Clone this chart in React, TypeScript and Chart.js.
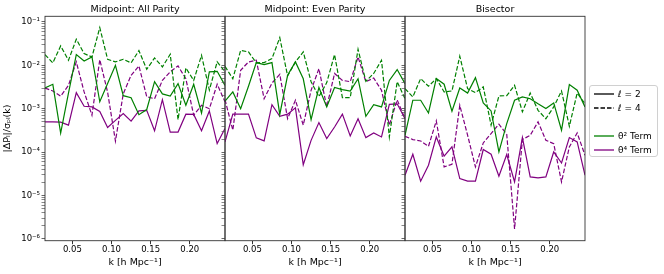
import React, { useEffect, useRef } from 'react';
import { Chart, registerables } from 'chart.js';

Chart.register(...registerables);

// ---------------- DATA ----------------
const K = [0.015, 0.025, 0.035, 0.045, 0.055, 0.065, 0.075, 0.085, 0.095, 0.105, 0.115, 0.125,
  0.135, 0.145, 0.155, 0.165, 0.175, 0.185, 0.195, 0.205, 0.215, 0.225, 0.235, 0.245];

const PANEL_TITLES = ['Midpoint: All Parity', 'Midpoint: Even Parity', 'Bisector'];
const X_TICKS = [0.05, 0.1, 0.15, 0.2];
const Y_DECADES = [1e-6, 1e-5, 1e-4, 1e-3, 1e-2, 1e-1];
const Y_LABELS = ['10⁻⁶', '10⁻⁵', '10⁻⁴', '10⁻³', '10⁻²', '10⁻¹'];
const X_TITLE = 'k [h Mpc⁻¹]';
const Y_TITLE = '|ΔPₗ|/σₚₗ(k)';

// Midpoint: All Parity
const ALL_T2_L2 = [0.0030, 0.00366, 0.000275, 0.0023, 0.0177, 0.0126, 0.0156, 0.00145, 0.0038, 0.010, 0.0020, 0.0018,
  0.00073, 0.00096, 0.0042, 0.0022, 0.00197, 0.0038, 0.0012, 0.00366, 0.00079, 0.0071, 0.0073, 0.00346];
const ALL_T2_L4 = [0.0177, 0.0114, 0.028, 0.0131, 0.040, 0.0186, 0.0156, 0.074, 0.0138, 0.012, 0.0138, 0.0114,
  0.0219, 0.0081, 0.0148, 0.0092, 0.018, 0.00056, 0.0087, 0.0045, 0.017, 0.0027, 0.012, 0.0071];
const ALL_T4_L2 = [0.000496, 0.0005, 0.00049, 0.00042, 0.00235, 0.00114, 0.0011, 0.00087, 0.00037, 0.00054, 0.00077, 0.00052,
  0.00089, 0.00092, 0.00031, 0.00162, 0.00029, 0.00029, 0.00075, 0.00074, 0.00031, 0.00089, 0.000158, 0.00035];
const ALL_T4_L4 = [0.0030, 0.00257, 0.00194, 0.00346, 0.012, 0.00244, 0.00071, 0.0135, 0.0024, 0.00018, 0.0022, 0.0059,
  0.0097, 0.0019, 0.0017, 0.0045, 0.0071, 0.0097, 0.0049, 0.00071, 0.0012, 0.0010, 0.00366, 0.00145];

// Midpoint: Even Parity
const EVEN_T2_L2 = [0.0015, 0.00244, 0.0010, 0.0033, 0.0116, 0.0104, 0.0116, 0.00074, 0.0059, 0.012, 0.0049, 0.00056,
  0.0031, 0.0011, 0.0031, 0.00276, 0.00256, 0.0049, 0.00067, 0.00124, 0.0011, 0.0045, 0.0080, 0.0038];
const EVEN_T2_L4 = [0.0095, 0.0049, 0.0222, 0.0204, 0.0114, 0.0116, 0.0143, 0.0436, 0.0057, 0.012, 0.0204, 0.0042,
  0.0019, 0.0040, 0.0177, 0.0018, 0.0018, 0.0234, 0.0043, 0.0065, 0.0131, 0.000224, 0.0042, 0.0017];
const EVEN_T4_L2 = [0.000172, 0.00075, 0.00075, 0.00075, 0.000213, 0.000182, 0.00124, 0.00067, 0.00075, 0.00105, 0.0000513, 0.000187,
  0.00048, 0.000205, 0.00038, 0.00075, 0.000236, 0.00059, 0.000216, 0.000277, 0.000224, 0.00126, 0.0013, 0.00059];
const EVEN_T4_L4 = [0.00162, 0.00032, 0.0077, 0.012, 0.0131, 0.0017, 0.0039, 0.0062, 0.00059, 0.00157, 0.00042, 0.00266,
  0.0084, 0.0011, 0.0065, 0.0045, 0.0042, 0.0156, 0.0042, 0.0051, 0.00266, 0.00042, 0.0016, 0.00059];

// Bisector
const BIS_T2_L2 = [0.000245, 0.00157, 0.00157, 0.0008, 0.00495, 0.00367, 0.00088, 0.0030, 0.0023, 0.0052, 0.00136, 0.00089,
  0.000101, 0.000455, 0.00157, 0.00187, 0.0017, 0.0013, 0.00101, 0.00136, 0.00032, 0.0036, 0.00267, 0.0011];
const BIS_T2_L4 = [0.0029, 0.00187, 0.00495, 0.0033, 0.00495, 0.00244, 0.00257, 0.0162, 0.0029, 0.00235, 0.0032, 0.00042,
  0.00197, 0.0020, 0.00347, 0.00085, 0.0023, 0.00092, 0.00059, 0.0011, 0.00257, 0.000395, 0.0023, 0.0013];
const BIS_T4_L2 = [0.0000294, 0.0000895, 0.0000214, 0.00005, 0.000224, 0.0000805, 0.000132, 0.0000246, 0.0000214, 0.0000214, 0.000115, 0.0000895,
  0.0000279, 0.0000879, 0.0000206, 0.000217, 0.0000269, 0.0000255, 0.0000269, 0.000101, 0.0000562, 0.000217, 0.000172, 0.0000294];
const BIS_T4_L4 = [0.000232, 0.000195, 0.000181, 0.000136, 0.000525, 0.0000457, 0.0000526, 0.0012, 0.000245, 0.0000457, 0.000163, 0.000268,
  0.00044, 0.000258, 0.0000017, 0.000195, 0.000245, 0.000497, 0.000188, 0.000157, 0.0000206, 0.000132, 0.000277, 0.000085];

const PANEL_SERIES = [
  [ALL_T2_L2, ALL_T2_L4, ALL_T4_L2, ALL_T4_L4],
  [EVEN_T2_L2, EVEN_T2_L4, EVEN_T4_L2, EVEN_T4_L4],
  [BIS_T2_L2, BIS_T2_L4, BIS_T4_L2, BIS_T4_L4],
];

const LEGEND_LABELS = ['ℓ = 2', 'ℓ = 4', '', 'θ² Term', 'θ⁴ Term'];

// ---------------- STYLE ----------------
const GREEN = '#008000';
const PURPLE = '#800080';
const SERIES_STYLE = [
  { color: GREEN, dash: [] as number[] },
  { color: GREEN, dash: [4.5, 2] },
  { color: PURPLE, dash: [] as number[] },
  { color: PURPLE, dash: [4.5, 2] },
];
const LEGEND_STYLE = [
  { color: '#000', dash: '' },
  { color: '#000', dash: '4.5 2' },
  null,
  { color: GREEN, dash: '' },
  { color: PURPLE, dash: '' },
];

const X_MIN = 0.015, X_MAX = 0.245;
const Y_MIN = 9.1e-7, Y_MAX = 0.135;
const W = 664, H = 274;
const PLOT_BOTTOM = 240.7;
const PANEL_LEFT = [45, 225, 405];
const PANEL_RIGHT = [225, 405, 585];
const FONT = 'DejaVu Sans';

const isDecade = (v: number) => {
  const l = Math.log10(v);
  return Math.abs(l - Math.round(l)) < 1e-6;
};

const framePlugin = {
  id: 'frame',
  afterDatasetsDraw(chart: any) {
    const { ctx, chartArea } = chart;
    ctx.save();
    ctx.strokeStyle = '#333';
    ctx.lineWidth = 0.9;
    ctx.strokeRect(chartArea.left, chartArea.top, chartArea.right - chartArea.left, chartArea.bottom - chartArea.top);
    ctx.restore();
  },
};

function Panel({ index }: { index: number }) {
  const ref = useRef<HTMLCanvasElement | null>(null);
  const first = index === 0;
  const yWidth = first ? 45 : 4;
  const canvasLeft = PANEL_LEFT[index] - yWidth;
  const canvasWidth = PANEL_RIGHT[index] + 1 - canvasLeft;

  useEffect(() => {
    if (!ref.current) return;
    const datasets = PANEL_SERIES[index].map((vals, si) => ({
      data: vals.map((v, i) => ({ x: K[i], y: v })),
      borderColor: SERIES_STYLE[si].color,
      borderDash: SERIES_STYLE[si].dash,
      borderWidth: 1.2,
      pointRadius: 0,
      tension: 0,
      fill: false,
    }));
    const chart = new Chart(ref.current, {
      type: 'line',
      data: { datasets },
      plugins: [framePlugin],
      options: {
        animation: false,
        responsive: false,
        devicePixelRatio: 1,
        layout: { padding: { left: 0, right: 1, top: 0, bottom: 0 } },
        plugins: {
          legend: { display: false },
          tooltip: { enabled: false },
          title: {
            display: true,
            text: PANEL_TITLES[index],
            fullSize: false,
            color: '#000',
            font: { family: FONT, size: 9.5, weight: 'normal' },
            padding: { top: 3.5, bottom: 1.4 },
          },
        },
        scales: {
          x: {
            type: 'linear',
            min: X_MIN,
            max: X_MAX,
            border: { display: false },
            grid: { drawOnChartArea: false, drawTicks: true, tickLength: 3.5, color: '#333' },
            ticks: {
              color: '#000',
              padding: 0.5,
              font: { family: FONT, size: 8.5 },
              autoSkip: false,
              maxRotation: 0,
              callback: (v: any) => Number(v).toFixed(2),
            },
            afterBuildTicks: (scale: any) => {
              scale.ticks = X_TICKS.map((v) => ({ value: v }));
            },
            afterFit: (scale: any) => {
              scale.height = H - PLOT_BOTTOM;
            },
            title: {
              display: true,
              text: X_TITLE,
              color: '#000',
              font: { family: FONT, size: 9.5 },
              padding: { top: 0, bottom: 6 },
            },
          },
          y: {
            type: 'logarithmic',
            min: Y_MIN,
            max: Y_MAX,
            border: { display: false },
            grid: {
              drawOnChartArea: false,
              drawTicks: true,
              tickLength: 3.5,
              tickColor: '#555',
              tickWidth: (ctx: any) => (ctx.tick && isDecade(ctx.tick.value) ? 0.9 : 0.7),
            },
            ticks: {
              display: first,
              color: '#000',
              padding: 1.5,
              autoSkip: false,
              font: { family: FONT, size: 8.5 },
              callback: (v: any) => {
                const i = Y_DECADES.findIndex((d) => Math.abs(Math.log10(Number(v)) - Math.log10(d)) < 1e-6);
                return i >= 0 ? Y_LABELS[i] : '';
              },
            },
            afterBuildTicks: (scale: any) => {
              const t: any[] = [];
              for (let e = -7; e <= -1; e++) {
                for (let m = 1; m <= 9; m++) {
                  const v = m * Math.pow(10, e);
                  if (v >= Y_MIN && v <= Y_MAX) t.push({ value: v, major: m === 1 });
                }
              }
              scale.ticks = t;
            },
            afterFit: (scale: any) => {
              scale.width = yWidth;
            },
            title: {
              display: first,
              text: Y_TITLE,
              color: '#000',
              font: { family: FONT, size: 9.5 },
              padding: { top: 2, bottom: 0 },
            },
          },
        },
      } as any,
    });
    return () => chart.destroy();
  }, [index]);

  return (
    <canvas
      ref={ref}
      width={canvasWidth}
      height={H}
      style={{ position: 'absolute', left: canvasLeft, top: 0, width: canvasWidth, height: H }}
    />
  );
}

function Legend() {
  const top0 = 93;
  const step = 14;
  return (
    <div
      style={{
        position: 'absolute',
        left: 589,
        top: 85,
        width: 69,
        height: 72,
        boxSizing: 'border-box',
        border: '1px solid #d0d0d0',
        borderRadius: 3,
        background: 'rgba(255,255,255,0.85)',
      }}
    >
      {LEGEND_LABELS.map((label, i) => {
        const st = LEGEND_STYLE[i];
        if (!st) return null;
        const cy = top0 + i * step - 85;
        return (
          <div key={i} style={{ position: 'absolute', left: 0, top: cy - 7, height: 14, width: 68 }}>
            <svg width={22} height={14} style={{ position: 'absolute', left: 3, top: 0 }}>
              <line x1={1} y1={7} x2={21} y2={7} stroke={st.color} strokeWidth={1.3} strokeDasharray={st.dash || undefined} />
            </svg>
            <span
              style={{
                position: 'absolute',
                left: 28,
                top: 0,
                lineHeight: '14px',
                fontFamily: FONT,
                fontSize: 9,
                color: '#000',
                whiteSpace: 'nowrap',
              }}
            >
              {label}
            </span>
          </div>
        );
      })}
    </div>
  );
}

export default function App() {
  return (
    <div style={{ position: 'absolute', left: 0, top: 0, width: W, height: H, background: '#fff', overflow: 'hidden' }}>
      <Panel index={0} />
      <Panel index={1} />
      <Panel index={2} />
      <Legend />
    </div>
  );
}
